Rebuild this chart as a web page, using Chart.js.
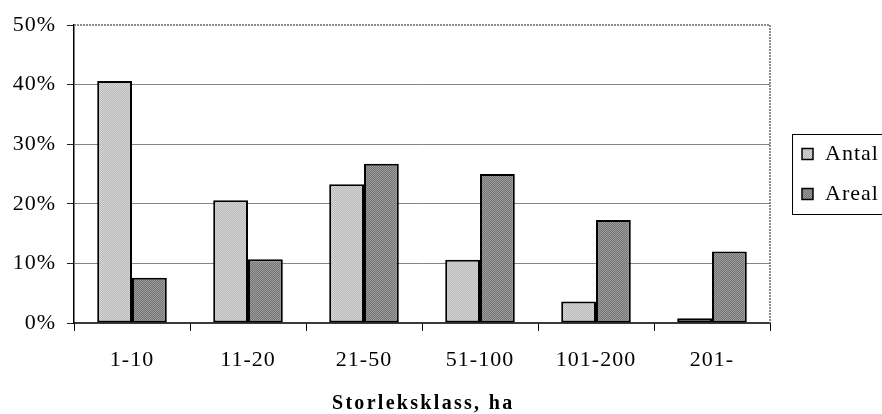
<!DOCTYPE html>
<html>
<head>
<meta charset="utf-8">
<script src="https://cdn.jsdelivr.net/npm/chart.js@4/dist/chart.umd.min.js"></script>
<style>
  html, body { margin: 0; padding: 0; background: #fff; }
  #wrap { width: 882px; height: 414px; position: relative; }
</style>
</head>
<body>
<div id="wrap"><canvas id="c"></canvas></div>
<script>
// Size classes (hectares) and share of holdings / area, in percent
const categories = ['1-10', '11-20', '21-50', '51-100', '101-200', '201-'];
const antal = [40.6, 20.6, 23.3, 10.6, 3.6, 0.8];
const areal = [7.6, 10.7, 26.7, 25.0, 17.3, 12.0];
const seriesNames = ['Antal', 'Areal'];
const yTicks = [0, 10, 20, 30, 40, 50];
const xTitle = 'Storleksklass, ha';

const FONT = '"Liberation Serif", "Times New Roman", serif';

// Fine checkerboard grey fills
function dither(c1, c2) {
  const cv = document.createElement('canvas');
  cv.width = 2; cv.height = 2;
  const g = cv.getContext('2d');
  g.fillStyle = c1;
  g.fillRect(0, 0, 2, 2);
  g.fillStyle = c2;
  g.fillRect(1, 0, 1, 1);
  g.fillRect(0, 1, 1, 1);
  return g.createPattern(cv, 'repeat');
}
const lightFill = dither('#d6d6d6', '#b8b8b8');
const darkFill = dither('#9c9c9c', '#747474');

const frameAndText = {
  id: 'frameAndText',
  beforeDraw(chart) {
    chart.ctx.letterSpacing = '1px';
  },
  beforeDatasetsDraw(chart) {
    const { ctx, chartArea: a } = chart;
    ctx.save();
    ctx.strokeStyle = '#6a6a6a';
    ctx.lineWidth = 1.5;
    ctx.setLineDash([2, 1]);
    ctx.beginPath();
    ctx.moveTo(a.left, a.top);
    ctx.lineTo(a.right, a.top);
    ctx.lineTo(a.right, a.bottom);
    ctx.stroke();
    ctx.restore();
  },
  afterDraw(chart) {
    const { ctx, chartArea: a } = chart;
    ctx.save();
    // axis title
    ctx.font = 'bold 20px ' + FONT;
    ctx.letterSpacing = '2.3px';
    ctx.fillStyle = '#000';
    ctx.textAlign = 'center';
    ctx.textBaseline = 'alphabetic';
    ctx.fillText(xTitle, (a.left + a.right) / 2 + 1.2, 409);

    // legend
    const lx = 792, ly = 134, lw = 100, lh = 80;
    ctx.letterSpacing = '1px';
    ctx.fillStyle = '#fff';
    ctx.fillRect(lx, ly, lw, lh);
    ctx.strokeStyle = '#000';
    ctx.lineWidth = 1;
    ctx.strokeRect(lx + 0.5, ly + 0.5, lw, lh);
    ctx.font = '22px ' + FONT;
    ctx.textAlign = 'left';
    const rows = [154, 194];
    chart.data.datasets.forEach((ds, i) => {
      const cy = rows[i];
      ctx.fillStyle = ds.backgroundColor;
      ctx.fillRect(802, cy - 5.5, 11, 11);
      ctx.strokeStyle = '#000';
      ctx.lineWidth = 1.5;
      ctx.strokeRect(802, cy - 5.5, 11, 11);
      ctx.fillStyle = '#000';
      ctx.textBaseline = 'alphabetic';
      ctx.fillText(ds.label, 825, cy + 6);
    });
    ctx.restore();
  }
};

new Chart(document.getElementById('c'), {
  type: 'bar',
  data: {
    labels: categories,
    datasets: [
      { label: seriesNames[0], data: antal, backgroundColor: lightFill },
      { label: seriesNames[1], data: areal, backgroundColor: darkFill }
    ]
  },
  options: {
    responsive: true,
    maintainAspectRatio: false,
    animation: false,
    devicePixelRatio: 1,
    layout: { padding: { top: 25, right: 112, left: 0, bottom: 0 } },
    datasets: {
      bar: {
        categoryPercentage: 0.6,
        barPercentage: 1,
        borderColor: '#000',
        borderWidth: 2,
        borderSkipped: false
      }
    },
    plugins: {
      legend: { display: false },
      tooltip: { enabled: false },
      title: { display: false }
    },
    scales: {
      x: {
        offset: true,
        grid: {
          offset: true,
          drawOnChartArea: false,
          drawTicks: true,
          tickLength: 8,
          tickColor: '#000',
          tickWidth: 1
        },
        border: { display: true, color: '#3a3a3a', width: 2, dash: [3, 1] },
        ticks: {
          color: '#000',
          font: { family: FONT, size: 22 },
          padding: 16,
          maxRotation: 0,
          autoSkip: false
        },
        afterFit(scale) { scale.height = 91; }
      },
      y: {
        min: 0,
        max: 50,
        afterBuildTicks(scale) { scale.ticks = yTicks.map(v => ({ value: v })); },
        grid: {
          color: ctx => (ctx.tick && (ctx.tick.value === 50 || ctx.tick.value === 0)) ? 'rgba(0,0,0,0)' : '#858585',
          lineWidth: 1,
          drawTicks: true,
          tickLength: 7,
          tickColor: '#222'
        },
        border: { display: true, color: '#000', width: 1.5 },
        ticks: {
          color: '#000',
          font: { family: FONT, size: 22 },
          padding: 11,
          callback: v => v + '%'
        },
        afterFit(scale) { scale.width = 74; }
      }
    }
  },
  plugins: [frameAndText]
});
</script>
</body>
</html>
